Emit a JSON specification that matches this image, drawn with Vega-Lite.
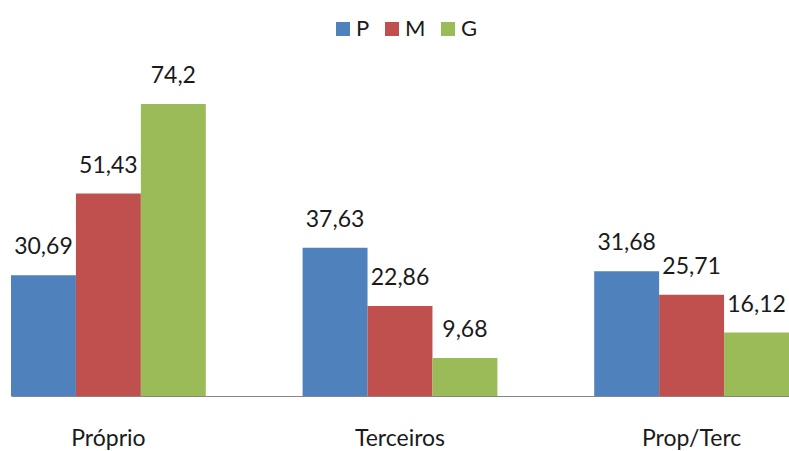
{
  "$schema": "https://vega.github.io/schema/vega-lite/v6.json",
  "width": 778,
  "height": 396,
  "padding": {"left": 11, "right": 0, "top": 0, "bottom": 0},
  "config": {
    "view": {"stroke": null},
    "font": "Lato",
    "locale": {"number": {"decimal": ",", "thousands": ".", "grouping": [3], "currency": ["", ""]}}
  },
  "data": {
    "values": [
      {"cat": "Próprio", "serie": "P", "valor": 30.69},
      {"cat": "Próprio", "serie": "M", "valor": 51.43},
      {"cat": "Próprio", "serie": "G", "valor": 74.2},
      {"cat": "Terceiros", "serie": "P", "valor": 37.63},
      {"cat": "Terceiros", "serie": "M", "valor": 22.86},
      {"cat": "Terceiros", "serie": "G", "valor": 9.68},
      {"cat": "Prop/Terc", "serie": "P", "valor": 31.68},
      {"cat": "Prop/Terc", "serie": "M", "valor": 25.71},
      {"cat": "Prop/Terc", "serie": "G", "valor": 16.12}
    ]
  },
  "encoding": {
    "x": {
      "field": "cat", "type": "nominal", "sort": ["Próprio", "Terceiros", "Prop/Terc"],
      "scale": {"paddingInner": 0.332, "paddingOuter": 0},
      "axis": {"title": null, "labelAngle": 0, "ticks": false, "domainColor": "#868686", "domainWidth": 1,
               "labelFontSize": 23, "labelColor": "#1a1a1a", "labelPadding": 31, "labelFont": "Lato"}
    },
    "xOffset": {"field": "serie", "type": "nominal", "sort": ["P", "M", "G"], "scale": {"paddingInner": 0, "paddingOuter": 0}},
    "y": {"field": "valor", "type": "quantitative", "scale": {"domain": [0, 100.6], "nice": false}, "axis": null}
  },
  "layer": [
    {
      "mark": {"type": "bar"},
      "encoding": {
        "color": {
          "field": "serie", "type": "nominal", "sort": ["P", "M", "G"],
          "scale": {"domain": ["P", "M", "G"], "range": ["#4F81BD", "#C0504D", "#9BBB59"]},
          "legend": {"title": null, "orient": "none", "legendX": 321, "legendY": 18, "direction": "horizontal",
                     "symbolType": "square", "symbolSize": 196, "symbolStrokeWidth": 0, "symbolOpacity": 1,
                     "labelFontSize": 22, "labelColor": "#1a1a1a", "labelOffset": 2, "columnPadding": 11, "padding": 0}
        }
      }
    },
    {
      "mark": {"type": "text", "baseline": "alphabetic", "dy": -21, "fontSize": 23, "color": "#1a1a1a"},
      "encoding": {"text": {"field": "valor", "type": "quantitative", "format": ".2~f"}}
    }
  ]
}
